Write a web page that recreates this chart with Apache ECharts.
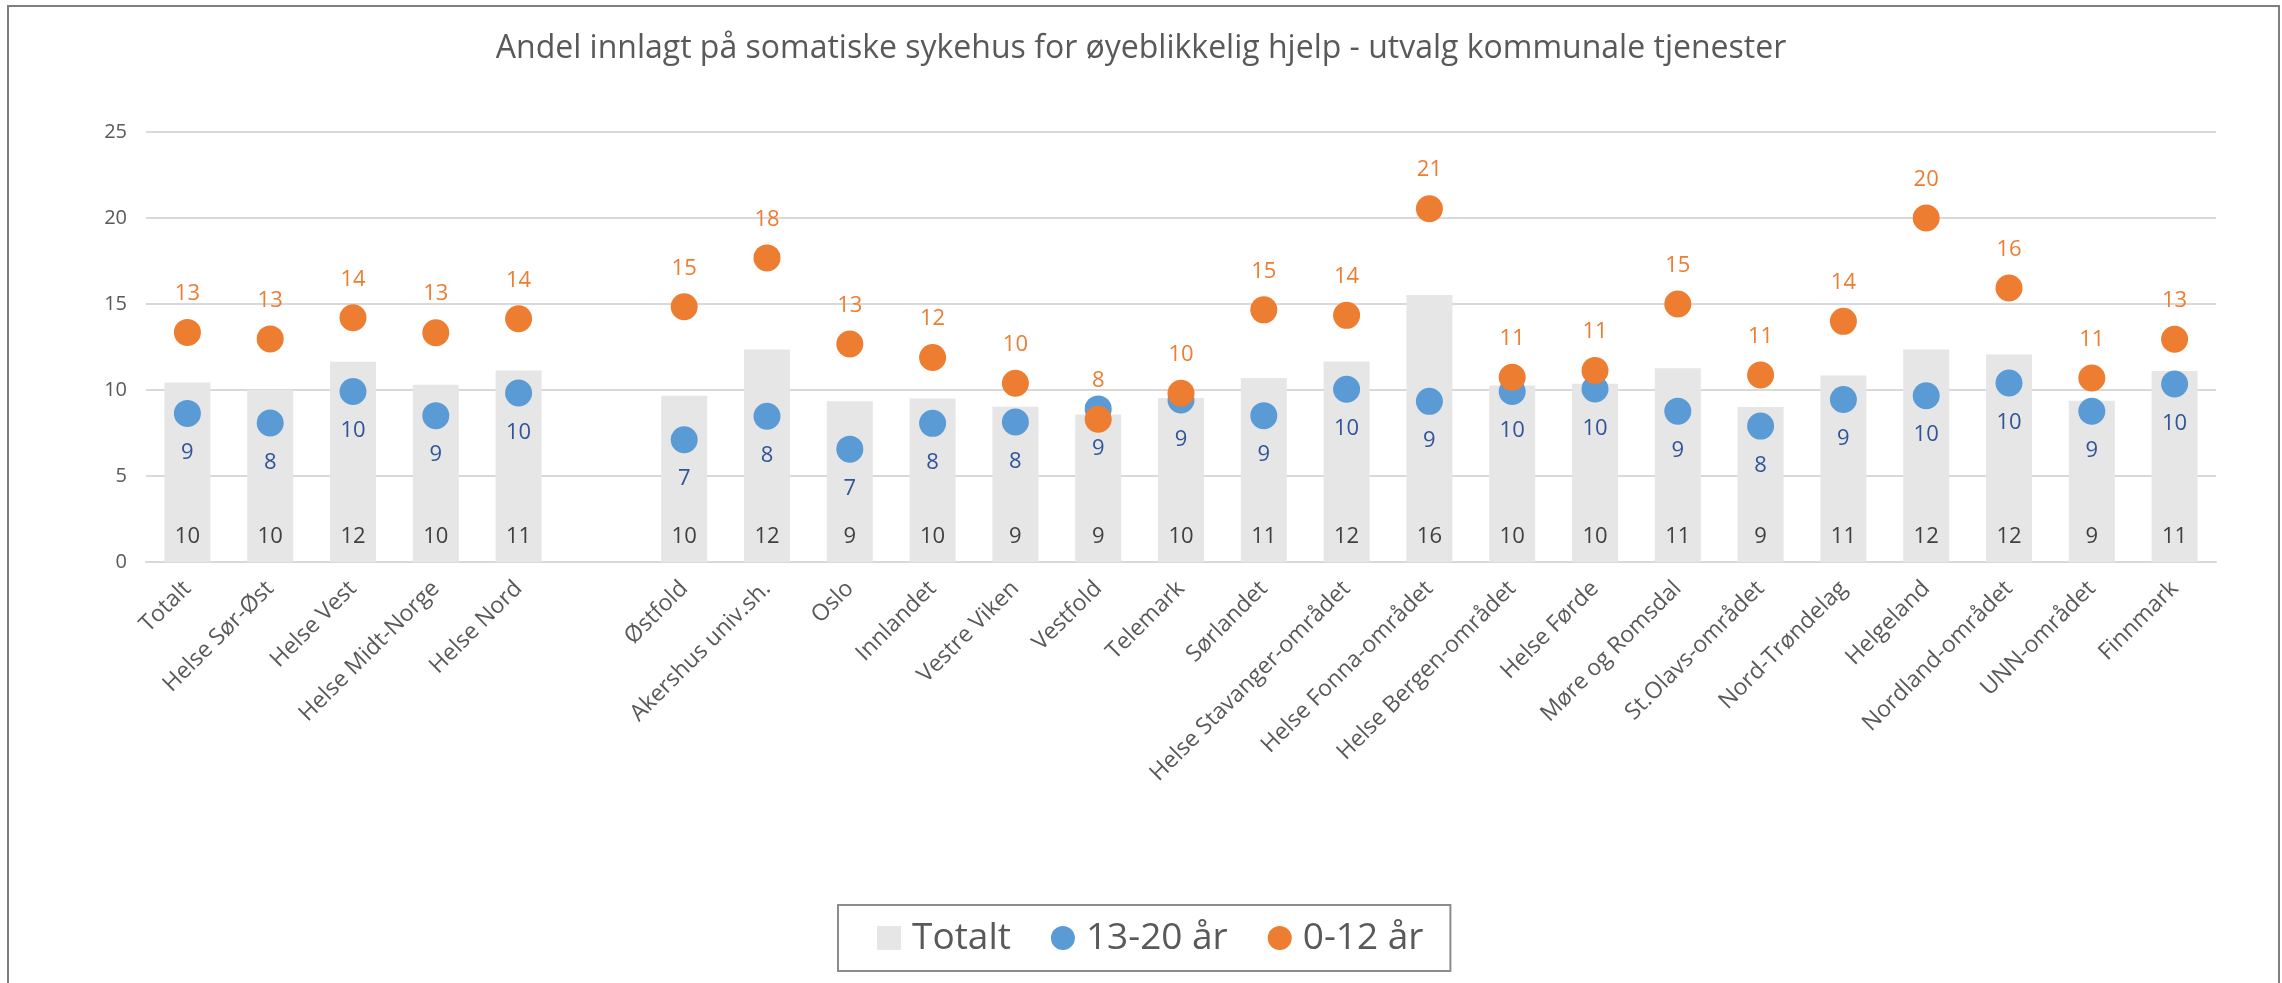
<!DOCTYPE html>
<html lang="no">

<head>
  <meta charset="UTF-8" />
  <title>Andel innlagt</title>
  <script src="https://cdn.jsdelivr.net/npm/echarts@6/dist/echarts.min.js"></script>
  <style>
    body,
    html {
      margin: 0;
      padding: 0;
      width: 100%;
      height: 100%;
      overflow: hidden;
      background: #fff;
    }

    #chart {
      width: 2282px;
      height: 983px;
    }
  </style>
</head>

<body>
  <div id="chart"></div>
</body>
<script>
  var categories = ['Totalt', 'Helse Sør-Øst', 'Helse Vest', 'Helse Midt-Norge', 'Helse Nord', '',
    'Østfold', 'Akershus univ.sh.', 'Oslo', 'Innlandet', 'Vestre Viken', 'Vestfold', 'Telemark',
    'Sørlandet', 'Helse Stavanger-området', 'Helse Fonna-området', 'Helse Bergen-området',
    'Helse Førde', 'Møre og Romsdal', 'St.Olavs-området', 'Nord-Trøndelag', 'Helgeland',
    'Nordland-området', 'UNN-området', 'Finnmark'];

  // Totalt (grey bars)
  var totalt = [10.43, 10.0, 11.64, 10.31, 11.13, null, 9.66, 12.35, 9.34, 9.5, 9.03, 8.57, 9.54,
    10.7, 11.65, 15.52, 10.26, 10.37, 11.27, 9.01, 10.84, 12.35, 12.06, 9.38, 11.11];

  // 13-20 år (blue dots)
  var ungdom = [8.64, 8.08, 9.91, 8.51, 9.83, null, 7.11, 8.47, 6.56, 8.06, 8.14, 8.9, 9.42,
    8.51, 10.04, 9.34, 9.91, 10.06, 8.76, 7.9, 9.45, 9.67, 10.41, 8.76, 10.35];

  // 0-12 år (orange dots)
  var barn = [13.35, 12.97, 14.2, 13.33, 14.14, null, 14.84, 17.68, 12.67, 11.89, 10.39, 8.3, 9.81,
    14.66, 14.34, 20.54, 10.74, 11.13, 15.0, 10.87, 13.99, 20.0, 15.93, 10.7, 12.95];

  var yTicks = [0, 5, 10, 15, 20, 25];

  var font = '"Open Sans", "Noto Sans", sans-serif';

  function rounded(p) {
    return Math.round(p.value);
  }

  var myChart = echarts.init(document.getElementById('chart'));

  var option = {
    backgroundColor: '#ffffff',
    animation: false,
    textStyle: {
      fontFamily: font
    },
    graphic: [{
      type: 'rect',
      shape: { x: 8, y: 6, width: 2271, height: 1000 },
      style: { fill: 'none', stroke: '#7f7f7f', lineWidth: 2 },
      silent: true
    }],
    title: {
      text: 'Andel innlagt på somatiske sykehus for øyeblikkelig hjelp - utvalg kommunale tjenester',
      left: 'center',
      top: 28,
      textStyle: {
        fontFamily: font,
        fontSize: 32,
        fontWeight: 'normal',
        color: '#595959'
      }
    },
    legend: {
      left: 838,
      top: 905,
      padding: [11, 27, 11, 39],
      borderColor: '#8c8c8c',
      borderWidth: 2,
      itemWidth: 24,
      itemHeight: 24,
      itemGap: 40,
      textStyle: {
        fontFamily: font,
        fontSize: 37,
        lineHeight: 44,
        color: '#595959',
        padding: [0, 0, 0, 6]
      },
      data: [
        { name: 'Totalt', icon: 'rect' },
        { name: '13-20 år', icon: 'circle' },
        { name: '0-12 år', icon: 'circle' }
      ]
    },
    grid: {
      left: 146,
      right: 66,
      top: 132,
      bottom: 421
    },
    xAxis: {
      type: 'category',
      data: categories,
      axisLine: { lineStyle: { color: '#d9d9d9', width: 2 } },
      axisTick: { show: false },
      axisLabel: {
        interval: 0,
        rotate: 45,
        margin: 23,
        fontFamily: font,
        fontSize: 23,
        color: '#595959'
      }
    },
    yAxis: {
      type: 'value',
      min: yTicks[0],
      max: yTicks[yTicks.length - 1],
      interval: 5,
      axisLine: { show: false },
      axisTick: { show: false },
      splitLine: { lineStyle: { color: '#d9d9d9', width: 2 } },
      axisLabel: {
        margin: 19,
        fontFamily: font,
        fontSize: 20,
        color: '#595959'
      }
    },
    series: [{
        name: 'Totalt',
        type: 'bar',
        data: totalt,
        barWidth: 46,
        itemStyle: { color: '#e7e6e6' },
        label: {
          show: true,
          position: 'insideBottom',
          distance: 14,
          formatter: rounded,
          fontFamily: font,
          fontSize: 22,
          color: '#404040'
        }
      },
      {
        name: '13-20 år',
        type: 'scatter',
        data: ungdom,
        symbol: 'circle',
        symbolSize: 27,
        itemStyle: { color: '#5b9bd5', opacity: 1 },
        label: {
          show: true,
          position: 'bottom',
          distance: 15,
          formatter: rounded,
          fontFamily: font,
          fontSize: 22,
          color: '#2f5597'
        }
      },
      {
        name: '0-12 år',
        type: 'scatter',
        data: barn,
        symbol: 'circle',
        symbolSize: 27,
        itemStyle: { color: '#ed7d31', opacity: 1 },
        label: {
          show: true,
          position: 'top',
          distance: 14,
          formatter: rounded,
          fontFamily: font,
          fontSize: 22,
          color: '#ed7d31'
        }
      }
    ]
  };

  myChart.setOption(option);
</script>

</html>
